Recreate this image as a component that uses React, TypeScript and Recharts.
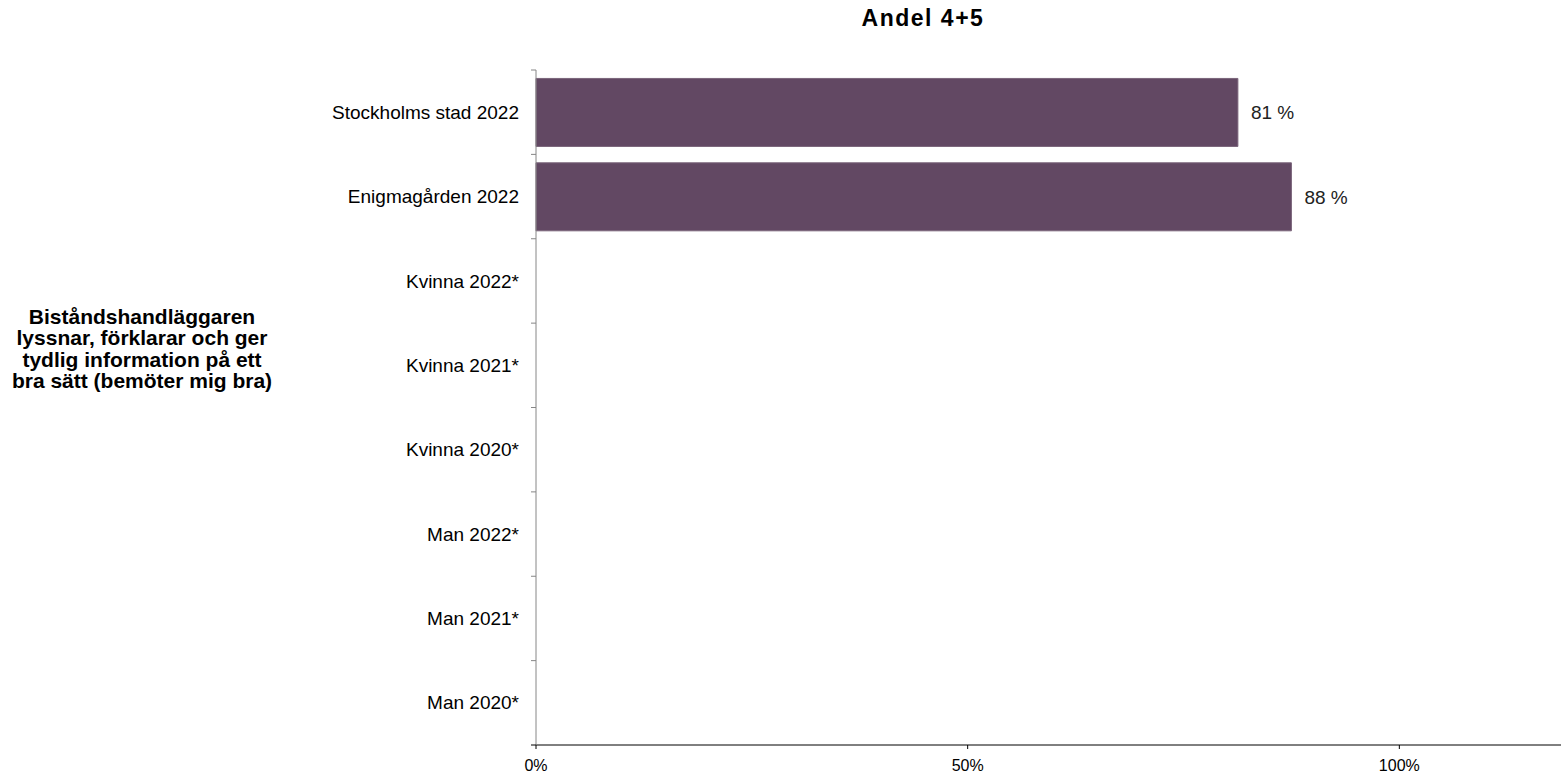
import { BarChart, Bar, XAxis, YAxis, LabelList } from "recharts";

const categories = [
    "Stockholms stad 2022",
    "Enigmagården 2022",
    "Kvinna 2022*",
    "Kvinna 2021*",
    "Kvinna 2020*",
    "Man 2022*",
    "Man 2021*",
    "Man 2020*",
];

const andel = [0.813, 0.875, null, null, null, null, null, null];

const xTicks = [0, 0.5, 1];

const questionLines = [
    "Biståndshandläggaren",
    "lyssnar, förklarar och ger",
    "tydlig information på ett",
    "bra sätt (bemöter mig bra)",
];

const data = categories.map((name, i) => ({ name, andel: andel[i] }));

const FONT = "Arial, 'Liberation Sans', sans-serif";
const AXIS_X = 536;
const BAND = (745 - 70) / categories.length;

function CategoryTick(props: any) {
    const { y, payload, index } = props;
    const last = index === categories.length - 1;
    return (
        <g>
            <line x1={AXIS_X - 5} x2={AXIS_X} y1={y - BAND / 2} y2={y - BAND / 2} stroke="#868686" />
            {last && (
                <line x1={AXIS_X - 5} x2={AXIS_X} y1={y + BAND / 2} y2={y + BAND / 2} stroke="#000" />
            )}
            <text
                x={AXIS_X - 17}
                y={y}
                dy="0.35em"
                textAnchor="end"
                fontSize={19}
                fontFamily={FONT}
                fill="#000"
            >
                {payload.value}
            </text>
        </g>
    );
}

export default function App() {
    return (
        <div
            style={{
                position: "fixed",
                left: 0,
                top: 0,
                width: 1561,
                height: 775,
                overflow: "hidden",
                background: "#fff",
            }}
        >
            <BarChart
                width={1572}
                height={775}
                layout="vertical"
                data={data}
                margin={{ top: 70, right: 0, bottom: 0, left: 0 }}
                barCategoryGap="10%"
            >
                <XAxis
                    type="number"
                    domain={[0, 1.2]}
                    ticks={xTicks}
                    height={30}
                    axisLine={{ stroke: "#000" }}
                    tickLine={{ stroke: "#000" }}
                    tickSize={4}
                    tickMargin={11}
                    tickFormatter={(v: number) => `${Math.round(v * 100)}%`}
                    tick={{ fontSize: 16, fontFamily: FONT, fill: "#000" }}
                />
                <YAxis
                    type="category"
                    dataKey="name"
                    width={AXIS_X}
                    axisLine={{ stroke: "#868686" }}
                    tickLine={false}
                    tick={<CategoryTick />}
                    interval={0}
                />
                <Bar dataKey="andel" fill="#624863" stroke="#7a647a" strokeWidth={1} isAnimationActive={false}>
                    <LabelList
                        dataKey="andel"
                        position="right"
                        offset={13}
                        formatter={(v: any) => (v == null ? "" : `${Math.round(v * 100)} %`)}
                        style={{ fontSize: 19, fontFamily: FONT, fill: "#222" }}
                    />
                </Bar>
            </BarChart>
            <svg
                width={1561}
                height={775}
                style={{ position: "absolute", left: 0, top: 0, pointerEvents: "none" }}
            >
                <text
                    x={923}
                    y={26}
                    textAnchor="middle"
                    fontSize={23}
                    fontWeight="bold"
                    fontFamily={FONT}
                    letterSpacing={1.5}
                    fill="#000"
                >
                    Andel 4+5
                </text>
                {questionLines.map((line, i) => (
                    <text
                        key={line}
                        x={142}
                        y={323.5 + i * 21.5}
                        textAnchor="middle"
                        fontSize={21}
                        fontWeight="bold"
                        fontFamily={FONT}
                        fill="#000"
                    >
                        {line}
                    </text>
                ))}
            </svg>
        </div>
    );
}
